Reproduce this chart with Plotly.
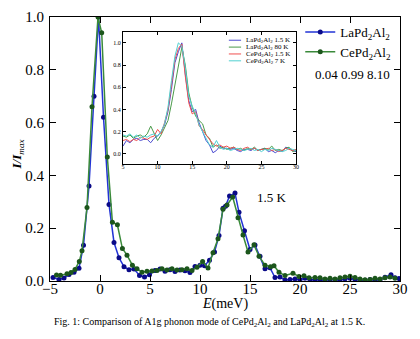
import plotly.graph_objects as go

# ---------------- main data ----------------
E_la = [-4.7, -4.1, -3.6, -3.1, -2.6, -2.1, -1.65, -1.1, -0.6, -0.15, 0.35, 0.9, 1.4, 1.9, 2.4, 2.9,
        3.4, 3.95, 4.45, 4.95, 5.5, 6.0, 6.5, 7.0, 7.5, 8.0, 8.5, 9.0, 9.5, 10.0, 10.45, 10.95, 11.45,
        11.9, 12.3, 12.55, 12.95, 13.5, 13.9, 14.45, 15.0, 15.5, 16.0, 16.5, 17.0, 17.5, 18.0, 18.5,
        19.0, 19.5, 20.0, 20.5, 21.0, 21.5, 22.0, 22.5, 23.0, 23.5, 24.0, 24.5, 25.0, 25.5, 26.0,
        26.5, 27.0, 27.5, 28.0, 28.5, 29.1, 29.5, 29.9]
I_la = [0.013, 0.006, 0.011, 0.025, 0.033, 0.048, 0.135, 0.36, 0.70, 1.0, 0.62, 0.29, 0.146, 0.088,
        0.054, 0.043, 0.045, 0.021, 0.015, 0.024, 0.040, 0.045, 0.037, 0.043, 0.036, 0.042, 0.039,
        0.032, 0.055, 0.060, 0.058, 0.079, 0.110, 0.172, 0.276, 0.283, 0.322, 0.333, 0.260, 0.190,
        0.119, 0.136, 0.094, 0.046, 0.050, 0.013, 0.015, 0.004, 0.006, 0.008, 0.005, 0.010, 0.004,
        0.006, 0.005, 0.003, 0.007, 0.005, 0.004, 0.008, 0.010, 0.006, 0.004, 0.003, 0.006, 0.005,
        0.004, 0.014, 0.024, 0.012, 0.009]

E_ce = [-4.35, -3.95, -3.3, -2.9, -2.5, -2.07, -1.8, -1.3, -0.8, -0.2, 0.17, 0.73, 1.24, 1.74, 2.24,
        2.7, 3.24, 3.7, 4.2, 4.7, 5.2, 5.7, 6.2, 6.7, 7.2, 7.7, 8.2, 8.7, 9.2, 9.7, 10.26, 10.8, 11.3,
        11.8, 12.3, 12.7, 13.27, 13.8, 14.3, 14.8, 15.4, 15.9, 16.5, 17.05, 17.4, 17.9, 18.5, 19.3,
        19.9, 20.4, 20.9, 21.5, 22.0, 22.5, 23.0, 23.5, 24.0, 24.5, 25.0, 25.5, 26.0, 26.5, 27.0,
        27.5, 28.0, 28.5, 29.0, 29.5]
I_ce = [0.023, 0.022, 0.027, 0.032, 0.044, 0.074, 0.115, 0.278, 0.66, 1.0, 0.94, 0.47, 0.223, 0.213,
        0.123, 0.098, 0.060, 0.046, 0.033, 0.037, 0.038, 0.040, 0.046, 0.042, 0.046, 0.042, 0.043,
        0.046, 0.040, 0.052, 0.074, 0.049, 0.107, 0.160, 0.272, 0.288, 0.318, 0.240, 0.174, 0.110,
        0.137, 0.094, 0.060, 0.054, 0.058, 0.033, 0.021, 0.029, 0.017, 0.020, 0.012, 0.013, 0.012,
        0.008, 0.010, 0.008, 0.012, 0.015, 0.018, 0.013, 0.008, 0.005, 0.006, 0.010, 0.008, 0.012,
        0.015, 0.010]

# ---------------- inset data ----------------
E_in = [5.0, 5.5, 6.0, 6.5, 7.0, 7.5, 8.0, 8.5, 9.0, 9.5, 10.0, 10.5, 11.0, 11.5, 12.0, 12.5, 13.0,
        13.5, 14.0, 14.5, 15.0, 15.5, 16.0, 16.5, 17.0, 17.5, 18.0, 18.5, 19.0, 19.5, 20.0, 20.5,
        21.0, 21.5, 22.0, 22.5, 23.0, 23.5, 24.0, 24.5, 25.0, 25.5, 26.0, 26.5, 27.0, 27.5, 28.0,
        28.5, 29.0, 29.5, 30.0]
I_la15 = [0.07, 0.12, 0.10, 0.13, 0.14, 0.12, 0.13, 0.13, 0.10, 0.14, 0.16, 0.20, 0.26, 0.38, 0.58,
          0.82, 0.92, 1.00, 0.72, 0.48, 0.38, 0.40, 0.28, 0.20, 0.12, 0.08, 0.01, 0.03, 0.07, 0.05,
          0.05, 0.04, 0.05, 0.03, 0.02, 0.04, 0.04, 0.03, 0.05, 0.03, 0.04, 0.05, 0.02, 0.03, 0.01,
          0.03, 0.02, 0.06, 0.05, 0.03, 0.02]
I_la80 = [0.16, 0.15, 0.17, 0.14, 0.16, 0.17, 0.15, 0.18, 0.25, 0.19, 0.12, 0.17, 0.24, 0.30, 0.45,
          0.62, 0.78, 0.96, 0.80, 0.55, 0.42, 0.34, 0.30, 0.27, 0.17, 0.14, 0.06, 0.08, 0.05, 0.06,
          0.04, 0.05, 0.06, 0.04, 0.05, 0.03, 0.05, 0.04, 0.06, 0.03, 0.04, 0.05, 0.04, 0.07, 0.03,
          0.04, 0.03, 0.05, 0.06, 0.02, 0.03]
I_ce15 = [0.12, 0.13, 0.11, 0.13, 0.12, 0.15, 0.14, 0.13, 0.15, 0.16, 0.22, 0.18, 0.28, 0.40, 0.62,
          0.85, 0.95, 0.99, 0.70, 0.46, 0.36, 0.38, 0.25, 0.22, 0.17, 0.13, 0.09, 0.07, 0.08, 0.06,
          0.07, 0.05, 0.06, 0.04, 0.03, 0.05, 0.06, 0.04, 0.05, 0.03, 0.04, 0.04, 0.05, 0.03, 0.04,
          0.02, 0.03, 0.05, 0.04, 0.03, 0.04]
I_ce7 = [0.17, 0.16, 0.18, 0.15, 0.17, 0.14, 0.16, 0.15, 0.17, 0.18, 0.16, 0.20, 0.27, 0.42, 0.66,
         0.88, 1.00, 0.97, 0.78, 0.52, 0.43, 0.36, 0.26, 0.20, 0.14, 0.08, 0.06, 0.12, 0.06, 0.04,
         0.05, 0.03, 0.04, 0.05, 0.04, 0.03, 0.04, 0.05, 0.03, 0.04, 0.02, 0.04, 0.03, 0.05, 0.04,
         0.03, 0.02, 0.03, 0.05, 0.04, 0.03]

inset_names = ["LaPd<sub>2</sub>Al<sub>2</sub> 1.5 K", "LaPd<sub>2</sub>Al<sub>2</sub> 80 K",
               "CePd<sub>2</sub>Al<sub>2</sub> 1.5 K", "CePd<sub>2</sub>Al<sub>2</sub> 7 K"]
inset_series = [I_la15, I_la80, I_ce15, I_ce7]
inset_colors = ["#4b4bd0", "#4a9a4a", "#f05050", "#50d0d0"]

x_ticks = [-5, 0, 5, 10, 15, 20, 25, 30]
y_ticks = [0.0, 0.2, 0.4, 0.6, 0.8, 1.0]
x_ticks_in = [5, 10, 15, 20, 25, 30]

SERIF = "Liberation Serif, Times New Roman, serif"

fig = go.Figure()

fig.add_trace(go.Scatter(x=E_la, y=I_la, mode="lines+markers", name="LaPd<sub>2</sub>Al<sub>2</sub>",
                         line=dict(color="#2233d6", width=1.5),
                         marker=dict(color="#0a0a88", size=5)))
fig.add_trace(go.Scatter(x=E_ce, y=I_ce, mode="lines+markers", name="CePd<sub>2</sub>Al<sub>2</sub>",
                         line=dict(color="#3a8a3a", width=1.5),
                         marker=dict(color="#1c561c", size=5)))

for nm, ys, col in zip(inset_names, inset_series, inset_colors):
    fig.add_trace(go.Scatter(x=E_in, y=ys, mode="lines", name=nm, showlegend=False,
                             xaxis="x2", yaxis="y2", line=dict(color=col, width=1)))

# inset domain (paper)
ix0, ix1 = 0.2086, 0.7029
iy0, iy1 = 0.4449, 0.9449

axis_common = dict(showline=True, linecolor="black", linewidth=1, mirror="ticks",
                   ticks="inside", tickcolor="black", showgrid=False, zeroline=False)

fig.update_layout(
    width=420, height=339,
    margin=dict(l=50, r=20, t=9, b=58),
    paper_bgcolor="white", plot_bgcolor="white",
    font=dict(family=SERIF, color="black"),
    xaxis=dict(range=[-5, 30], tickvals=x_ticks, ticklen=6, tickfont=dict(size=15),
               ticklabelstandoff=-6, title=None, **axis_common),
    yaxis=dict(range=[0, 1.0], tickvals=y_ticks, tickformat=".1f", ticklen=6,
               tickfont=dict(size=15), ticklabelstandoff=2, title=None, **axis_common),
    xaxis2=dict(domain=[ix0, ix1], anchor="y2", range=[5, 30], tickvals=x_ticks_in, ticklen=3,
                tickfont=dict(size=6), ticklabelstandoff=-3, **axis_common),
    yaxis2=dict(domain=[iy0, iy1], anchor="x2", range=[-0.0875, 1.102], tickvals=y_ticks,
                tickformat=".1f", ticklen=3, tickfont=dict(size=6), **axis_common),
    showlegend=True,
    legend=dict(x=0.715, y=1.0, xanchor="left", yanchor="top", bgcolor="rgba(0,0,0,0)",
                font=dict(size=13, family=SERIF), tracegroupgap=0),
)

# inset white background
fig.add_shape(type="rect", xref="paper", yref="paper", x0=ix0, x1=ix1, y0=iy0, y1=iy1,
              fillcolor="white", line=dict(width=0), layer="below")

# inset legend (manual)
leg_y = [0.912, 0.886, 0.860, 0.834]
for nm, col, yy in zip(inset_names, inset_colors, leg_y):
    fig.add_shape(type="line", xref="paper", yref="paper", x0=0.511, x1=0.546, y0=yy, y1=yy,
                  line=dict(color=col, width=1))
    fig.add_annotation(xref="paper", yref="paper", x=0.553, y=yy, text=nm, showarrow=False,
                       xanchor="left", yanchor="middle", font=dict(size=7, family=SERIF))

fig.add_annotation(x=15.5, y=0.315, text="1.5 K", showarrow=False, xanchor="left",
                   font=dict(size=13, family=SERIF))
fig.add_annotation(x=21.3, y=0.781, text="0.04 0.99 8.10", showarrow=False, xanchor="left",
                   font=dict(size=13, family=SERIF))
fig.add_annotation(xref="paper", yref="paper", x=-0.094, y=0.48, textangle=-90,
                   xanchor="center", yanchor="middle",
                   text="<b><i>I/I</i></b><sub><i>max</i></sub>", showarrow=False,
                   font=dict(size=13, family=SERIF))
fig.add_annotation(xref="paper", yref="paper", x=0.5, y=-0.088, xanchor="center", yanchor="middle",
                   text="<i>E</i>(meV)", showarrow=False, font=dict(size=14, family=SERIF))
fig.add_annotation(xref="paper", yref="paper", x=0.457, y=-0.158, xanchor="center", yanchor="middle",
                   text="Fig. 1: Comparison of A1g phonon mode of CePd<sub>2</sub>Al<sub>2</sub> and LaPd<sub>2</sub>Al<sub>2</sub> at 1.5 K.",
                   showarrow=False, font=dict(size=10, family=SERIF))

fig.write_html("out.html")
